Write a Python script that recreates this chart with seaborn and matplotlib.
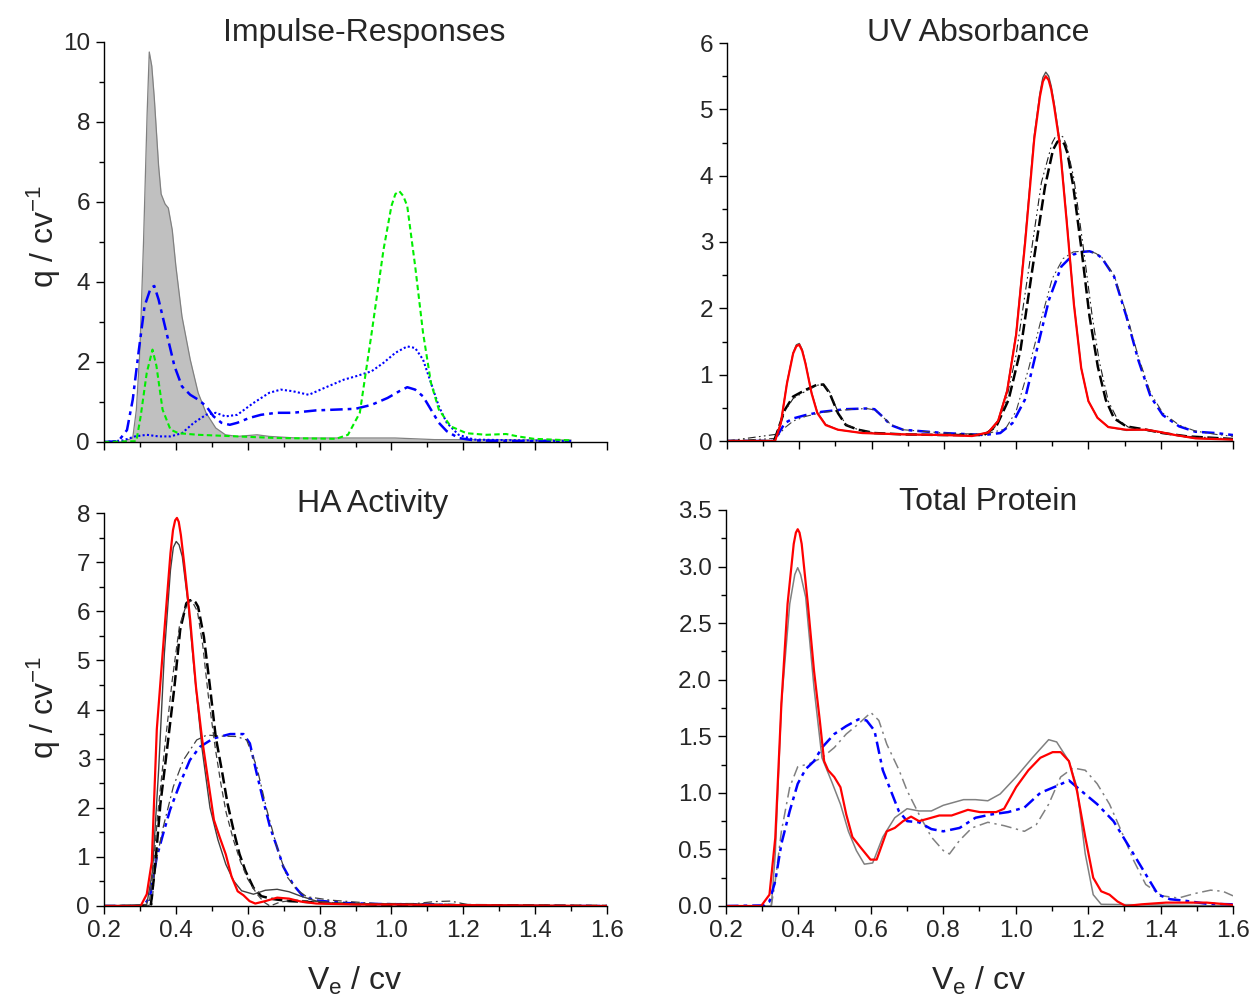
import matplotlib
matplotlib.use('Agg')
import matplotlib.pyplot as plt
import seaborn as sns
from matplotlib.ticker import MultipleLocator, FormatStrFormatter

# ---------------- data ----------------
# Impulse-Responses
ir_gray_x = [0.20, 0.25, 0.28, 0.29, 0.30, 0.31, 0.32, 0.326, 0.333, 0.34, 0.352, 0.359, 0.37, 0.379,
             0.39, 0.40, 0.417, 0.44, 0.462, 0.484, 0.511, 0.538, 0.571, 0.626, 0.66, 0.736, 0.90,
             1.01, 1.12, 1.50]
ir_gray_y = [0, 0, 0.1, 0.8, 2.3, 5.0, 8.2, 9.75, 9.4, 8.6, 6.9, 6.2, 5.95, 5.85,
             5.3, 4.4, 3.14, 2.06, 1.23, 0.73, 0.35, 0.18, 0.14, 0.18, 0.14, 0.10, 0.10,
             0.10, 0.06, 0.05]

ir_dashdot_x = [0.20, 0.24, 0.264, 0.28, 0.297, 0.313, 0.33, 0.34, 0.352, 0.374, 0.396, 0.417, 0.44,
                0.462, 0.484, 0.505, 0.527, 0.55, 0.571, 0.604, 0.637, 0.68, 0.725, 0.79, 0.846, 0.90,
                0.945, 0.989, 1.022, 1.044, 1.066, 1.088, 1.11, 1.132, 1.154, 1.187, 1.23, 1.34, 1.50]
ir_dashdot_y = [0, 0.02, 0.3, 1.06, 2.3, 3.4, 3.85, 3.9, 3.56, 2.73, 1.9, 1.39, 1.18,
                1.06, 0.9, 0.64, 0.48, 0.43, 0.48, 0.6, 0.68, 0.73, 0.73, 0.79, 0.81, 0.83,
                0.93, 1.1, 1.27, 1.37, 1.31, 1.14, 0.81, 0.48, 0.27, 0.1, 0.04, 0.02, 0.02]

ir_dot_x = [0.20, 0.253, 0.286, 0.319, 0.352, 0.385, 0.417, 0.45, 0.484, 0.511, 0.538, 0.571, 0.615,
            0.66, 0.692, 0.725, 0.77, 0.813, 0.868, 0.90, 0.945, 0.978, 1.011, 1.044, 1.066, 1.088,
            1.11, 1.132, 1.154, 1.187, 1.23, 1.50]
ir_dot_y = [0, 0.04, 0.14, 0.18, 0.14, 0.14, 0.22, 0.48, 0.68, 0.73, 0.64, 0.68, 0.97,
            1.23, 1.31, 1.27, 1.18, 1.35, 1.56, 1.64, 1.77, 1.98, 2.23, 2.39, 2.35, 2.06,
            1.48, 0.89, 0.48, 0.18, 0.06, 0.02]

ir_green_x = [0.20, 0.29, 0.302, 0.319, 0.335, 0.346, 0.363, 0.385, 0.407, 0.462, 0.571, 0.68, 0.846,
              0.879, 0.912, 0.945, 0.978, 1.0, 1.011, 1.022, 1.033, 1.044, 1.066, 1.088, 1.11, 1.132,
              1.165, 1.209, 1.264, 1.319, 1.352, 1.396, 1.50]
ir_green_y = [0, 0.02, 0.64, 1.73, 2.31, 1.9, 0.81, 0.31, 0.22, 0.18, 0.14, 0.1, 0.08,
              0.18, 0.73, 2.73, 4.81, 5.9, 6.2, 6.27, 6.15, 5.9, 4.4, 2.73, 1.48, 0.81,
              0.39, 0.22, 0.18, 0.2, 0.14, 0.08, 0.04]

# UV Absorbance
uv_red_x = [0.20, 0.333, 0.349, 0.366, 0.383, 0.392, 0.40, 0.408, 0.417, 0.434, 0.45, 0.473, 0.507,
            0.574, 0.687, 0.80, 0.878, 0.923, 0.95, 0.975, 1.0, 1.025, 1.05, 1.066, 1.074, 1.082,
            1.09, 1.097, 1.105, 1.12, 1.14, 1.16, 1.18, 1.20, 1.225, 1.255, 1.305, 1.36, 1.394,
            1.44, 1.496, 1.60]
uv_red_y = [0, 0, 0.27, 0.87, 1.32, 1.43, 1.45, 1.36, 1.17, 0.72, 0.42, 0.24, 0.17,
            0.12, 0.10, 0.09, 0.075, 0.13, 0.3, 0.75, 1.6, 3.0, 4.55, 5.2, 5.42, 5.5,
            5.44, 5.3, 5.05, 4.5, 3.3, 2.05, 1.1, 0.6, 0.35, 0.21, 0.17, 0.17, 0.14,
            0.09, 0.04, 0.02]
uv_gray_y = [0, 0, 0.28, 0.88, 1.33, 1.45, 1.47, 1.38, 1.18, 0.73, 0.43, 0.25, 0.17,
             0.12, 0.10, 0.09, 0.08, 0.13, 0.31, 0.77, 1.63, 3.05, 4.6, 5.25, 5.48, 5.56,
             5.5, 5.35, 5.1, 4.55, 3.33, 2.07, 1.1, 0.6, 0.35, 0.21, 0.16, 0.17, 0.14,
             0.09, 0.04, 0.02]

uv_blk_x = [0.20, 0.33, 0.338, 0.36, 0.383, 0.417, 0.45, 0.467, 0.484, 0.507, 0.529, 0.563, 0.608,
            0.687, 0.80, 0.911, 0.945, 0.979, 1.012, 1.046, 1.08, 1.102, 1.114, 1.125, 1.134, 1.142,
            1.158, 1.181, 1.203, 1.226, 1.248, 1.271, 1.305, 1.36, 1.405, 1.473, 1.60]
uv_blk_y = [0, 0, 0.12, 0.47, 0.67, 0.77, 0.85, 0.85, 0.72, 0.42, 0.24, 0.17, 0.12,
            0.10, 0.09, 0.09, 0.22, 0.62, 1.37, 2.63, 3.84, 4.39, 4.51, 4.54, 4.47, 4.34,
            3.84, 2.88, 1.88, 1.12, 0.62, 0.34, 0.22, 0.17, 0.12, 0.07, 0.03]

uv_blkthin_x = [0.20, 0.335, 0.36, 0.383, 0.417, 0.45, 0.467, 0.484, 0.507, 0.529, 0.563, 0.608, 0.687,
                0.80, 0.911, 0.94, 0.97, 1.0, 1.035, 1.07, 1.10, 1.11, 1.12, 1.13, 1.14, 1.16, 1.185,
                1.21, 1.23, 1.255, 1.28, 1.31, 1.36, 1.405, 1.473, 1.60]
uv_blkthin_y = [0, 0.1, 0.45, 0.64, 0.75, 0.84, 0.86, 0.74, 0.44, 0.25, 0.17, 0.12, 0.10,
                0.09, 0.09, 0.2, 0.55, 1.3, 2.6, 3.9, 4.5, 4.6, 4.62, 4.58, 4.45, 3.95, 2.95,
                1.9, 1.2, 0.6, 0.33, 0.21, 0.16, 0.12, 0.07, 0.03]

uv_blue_x = [0.20, 0.33, 0.338, 0.36, 0.383, 0.417, 0.462, 0.529, 0.585, 0.608, 0.63, 0.653, 0.687,
             0.80, 0.911, 0.956, 0.99, 1.024, 1.057, 1.091, 1.125, 1.158, 1.18, 1.203, 1.22, 1.237,
             1.271, 1.305, 1.338, 1.372, 1.406, 1.451, 1.496, 1.552, 1.60]
uv_blue_y = [0, 0, 0.07, 0.27, 0.34, 0.39, 0.44, 0.48, 0.49, 0.48, 0.37, 0.24, 0.17,
             0.12, 0.09, 0.12, 0.27, 0.62, 1.37, 2.13, 2.63, 2.81, 2.85, 2.86, 2.83, 2.76,
             2.48, 1.88, 1.22, 0.67, 0.39, 0.22, 0.14, 0.12, 0.09]

uv_bluethin_x = [0.20, 0.335, 0.36, 0.383, 0.417, 0.462, 0.529, 0.585, 0.608, 0.63, 0.653, 0.687, 0.80,
                 0.911, 0.97, 1.0, 1.035, 1.07, 1.10, 1.13, 1.158, 1.18, 1.203, 1.22, 1.237, 1.271,
                 1.305, 1.338, 1.372, 1.406, 1.451, 1.496, 1.552, 1.60]
uv_bluethin_y = [0, 0.04, 0.2, 0.3, 0.37, 0.43, 0.47, 0.49, 0.47, 0.37, 0.25, 0.17, 0.12,
                 0.1, 0.18, 0.45, 1.1, 1.85, 2.45, 2.75, 2.85, 2.86, 2.86, 2.83, 2.77, 2.5,
                 1.92, 1.27, 0.72, 0.42, 0.24, 0.15, 0.1, 0.07]

# HA Activity
ha_red_x = [0.20, 0.302, 0.319, 0.333, 0.347, 0.368, 0.385, 0.392, 0.398, 0.403, 0.408, 0.414, 0.423,
            0.44, 0.456, 0.473, 0.489, 0.506, 0.522, 0.539, 0.555, 0.572, 0.588, 0.605, 0.621, 0.649,
            0.682, 0.715, 0.748, 0.791, 0.901, 1.011, 1.121, 1.60]
ha_red_y = [0, 0, 0.24, 0.9, 3.6, 5.6, 7.18, 7.65, 7.85, 7.9, 7.82, 7.55, 6.98,
            5.82, 4.46, 3.4, 2.6, 1.75, 1.4, 1.05, 0.6, 0.3, 0.22, 0.1, 0.05, 0.1,
            0.17, 0.15, 0.09, 0.05, 0.03, 0.03, 0.02, 0]

ha_gray_x = [0.20, 0.319, 0.335, 0.352, 0.368, 0.385, 0.393, 0.401, 0.409, 0.418, 0.434, 0.451, 0.473,
             0.495, 0.517, 0.539, 0.561, 0.583, 0.616, 0.649, 0.682, 0.715, 0.748, 0.791, 0.846, 1.60]
ha_gray_y = [0, 0.03, 0.71, 2.76, 5.14, 6.84, 7.3, 7.42, 7.35, 7.11, 6.16, 4.8, 3.2,
             2.0, 1.35, 0.85, 0.51, 0.31, 0.24, 0.32, 0.34, 0.29, 0.2, 0.1, 0.05, 0]

ha_blk_x = [0.20, 0.33, 0.341, 0.357, 0.374, 0.396, 0.412, 0.429, 0.438, 0.447, 0.455, 0.462, 0.478,
            0.495, 0.511, 0.528, 0.544, 0.561, 0.577, 0.594, 0.616, 0.638, 0.671, 0.715, 0.77, 0.846,
            0.956, 1.60]
ha_blk_y = [0, 0, 0.71, 2.08, 3.1, 4.46, 5.62, 6.16, 6.22, 6.23, 6.18, 6.09, 5.48,
            4.46, 3.44, 2.76, 2.08, 1.53, 1.06, 0.71, 0.37, 0.2, 0.14, 0.1, 0.08, 0.05,
            0.03, 0]

ha_blkthin_x = [0.20, 0.325, 0.335, 0.35, 0.37, 0.39, 0.41, 0.43, 0.444, 0.46, 0.475, 0.49, 0.51,
                0.525, 0.54, 0.56, 0.58, 0.60, 0.625, 0.645, 0.662, 0.69, 0.73, 0.78, 0.85, 0.95, 1.60]
ha_blkthin_y = [0, 0, 0.6, 1.9, 3.3, 4.6, 5.7, 6.15, 6.22, 6.0, 5.3, 4.3, 3.2,
                2.5, 1.9, 1.35, 0.9, 0.55, 0.25, 0.08, 0.0, 0.08, 0.12, 0.1, 0.06, 0.03, 0]

ha_blue_x = [0.20, 0.31, 0.328, 0.347, 0.365, 0.384, 0.412, 0.439, 0.467, 0.504, 0.551, 0.588, 0.606,
             0.625, 0.643, 0.662, 0.681, 0.699, 0.727, 0.755, 0.792, 0.876, 0.968, 1.121, 1.231, 1.60]
ha_blue_y = [0, 0, 0.19, 1.0, 1.48, 1.96, 2.5, 2.97, 3.24, 3.41, 3.5, 3.5, 3.31,
             2.7, 2.16, 1.61, 1.21, 0.8, 0.43, 0.19, 0.11, 0.06, 0.04, 0.03, 0, 0]

ha_bluethin_x = [0.20, 0.333, 0.342, 0.365, 0.393, 0.421, 0.458, 0.486, 0.521, 0.569, 0.597, 0.625,
                 0.653, 0.681, 0.709, 0.737, 0.764, 0.829, 0.956, 1.066, 1.121, 1.165, 1.198, 1.231, 1.60]
ha_bluethin_y = [0, 0, 0.8, 1.61, 2.43, 2.97, 3.38, 3.48, 3.46, 3.45, 3.38, 2.84,
                 1.96, 1.21, 0.6, 0.33, 0.19, 0.12, 0.05, 0.05, 0.09, 0.1, 0.05, 0, 0]

# Total Protein
tp_red_x = [0.20, 0.297, 0.32, 0.336, 0.353, 0.37, 0.387, 0.393, 0.398, 0.403, 0.409, 0.426, 0.443,
            0.459, 0.471, 0.482, 0.499, 0.516, 0.532, 0.549, 0.571, 0.599, 0.616, 0.644, 0.666, 0.689,
            0.711, 0.733, 0.756, 0.789, 0.823, 0.868, 0.901, 0.946, 0.968, 1.001, 1.035, 1.068, 1.102,
            1.124, 1.147, 1.169, 1.192, 1.214, 1.236, 1.259, 1.281, 1.304, 1.348, 1.415, 1.527, 1.60]
tp_red_y = [0, 0, 0.1, 0.6, 1.79, 2.67, 3.2, 3.3, 3.33, 3.3, 3.2, 2.67, 2.08,
            1.64, 1.28, 1.2, 1.14, 1.05, 0.81, 0.61, 0.52, 0.41, 0.41, 0.66, 0.69, 0.75,
            0.79, 0.75, 0.77, 0.8, 0.8, 0.85, 0.83, 0.83, 0.86, 1.05, 1.2, 1.31, 1.36,
            1.36, 1.28, 1.02, 0.61, 0.25, 0.13, 0.1, 0.04, 0, 0.015, 0.03, 0.03, 0.01]

tp_gray_x = [0.20, 0.325, 0.336, 0.353, 0.376, 0.39, 0.398, 0.406, 0.42, 0.443, 0.465, 0.493, 0.516,
             0.538, 0.56, 0.582, 0.605, 0.633, 0.666, 0.70, 0.733, 0.767, 0.80, 0.856, 0.889, 0.923,
             0.957, 1.001, 1.046, 1.091, 1.113, 1.147, 1.169, 1.192, 1.214, 1.236, 1.60]
tp_gray_y = [0, 0, 0.46, 1.79, 2.67, 2.93, 2.99, 2.93, 2.73, 1.93, 1.31, 1.09, 0.9,
             0.66, 0.49, 0.37, 0.38, 0.61, 0.78, 0.86, 0.84, 0.84, 0.89, 0.94, 0.94, 0.93,
             0.99, 1.14, 1.31, 1.47, 1.45, 1.28, 1.05, 0.46, 0.1, 0.015, 0]

tp_blue_x = [0.20, 0.303, 0.32, 0.336, 0.353, 0.376, 0.398, 0.42, 0.443, 0.465, 0.499, 0.532, 0.566,
             0.588, 0.61, 0.633, 0.655, 0.677, 0.70, 0.733, 0.767, 0.80, 0.845, 0.889, 0.934, 0.979,
             1.024, 1.068, 1.113, 1.147, 1.18, 1.225, 1.27, 1.314, 1.359, 1.393, 1.426, 1.471, 1.527, 1.60]
tp_blue_y = [0, 0.005, 0.04, 0.22, 0.55, 0.84, 1.08, 1.21, 1.28, 1.4, 1.52, 1.59, 1.65,
             1.64, 1.55, 1.2, 1.02, 0.84, 0.75, 0.74, 0.68, 0.66, 0.69, 0.78, 0.81, 0.83,
             0.87, 1.0, 1.06, 1.11, 1.02, 0.9, 0.75, 0.52, 0.28, 0.1, 0.06, 0.045, 0.02, 0.015]

tp_graydd_x = [0.20, 0.325, 0.336, 0.353, 0.376, 0.398, 0.432, 0.465, 0.499, 0.532, 0.566, 0.60, 0.622,
               0.644, 0.678, 0.70, 0.733, 0.767, 0.80, 0.817, 0.845, 0.879, 0.923, 0.968, 1.024, 1.057,
               1.091, 1.124, 1.158, 1.192, 1.225, 1.259, 1.292, 1.326, 1.359, 1.404, 1.449, 1.494, 1.538,
               1.572, 1.60]
tp_graydd_y = [0, 0, 0.22, 0.66, 1.05, 1.23, 1.26, 1.31, 1.4, 1.52, 1.61, 1.71, 1.64,
               1.43, 1.2, 1.02, 0.81, 0.61, 0.49, 0.46, 0.58, 0.69, 0.74, 0.71, 0.66, 0.72,
               0.9, 1.14, 1.22, 1.2, 1.08, 0.9, 0.66, 0.4, 0.19, 0.09, 0.07, 0.11, 0.14,
               0.13, 0.09]

titles = ['Impulse-Responses', 'UV Absorbance', 'HA Activity', 'Total Protein']
xticks = [0.2, 0.4, 0.6, 0.8, 1.0, 1.2, 1.4, 1.6]

# ---------------- style ----------------
sns.set_theme(style='ticks')
plt.rcParams['font.family'] = ['Liberation Sans', 'DejaVu Sans']
plt.rcParams['mathtext.fontset'] = 'custom'
plt.rcParams['mathtext.rm'] = 'Liberation Sans'
plt.rcParams['mathtext.it'] = 'Liberation Sans:italic'
plt.rcParams['axes.linewidth'] = 1.0

W, H = 1255, 998
fig = plt.figure(figsize=(W / 100, H / 100), dpi=100)


def add_ax(l, r, t, b):
    return fig.add_axes([l / W, 1 - b / H, (r - l) / W, (b - t) / H])


ax_ir = add_ax(104, 607, 42, 442)
ax_uv = add_ax(727, 1233, 43, 441)
ax_ha = add_ax(104, 607, 513, 906)
ax_tp = add_ax(726, 1233, 510, 906)

RED = '#ff0000'
BLUE = '#0000ff'
GREEN = '#00ee00'


def draw(ax, x, y, color, lw, ls='-'):
    sns.lineplot(x=x, y=y, ax=ax, color=color, linewidth=lw, linestyle=ls,
                 sort=False, estimator=None)


DASHDOT = (0, (5, 2, 1.5, 2))
DDOT_THIN = (0, (7, 3, 1.5, 3, 1.5, 3))
DASH_THICK = (0, (4.5, 1.8))
DASH_THIN = (0, (5, 3))
DOT = (0, (1, 1.1))
GDASH = (0, (2.6, 1.6))
DD_THIN = (0, (7, 3, 1.5, 3))

# Impulse responses
ax_ir.fill_between(ir_gray_x, ir_gray_y, 0, color='#c0c0c0', linewidth=0)
draw(ax_ir, ir_gray_x, ir_gray_y, '#808080', 0.9)
draw(ax_ir, ir_dot_x, ir_dot_y, BLUE, 1.5, DOT)
draw(ax_ir, ir_dashdot_x, ir_dashdot_y, BLUE, 1.8, DASHDOT)
draw(ax_ir, ir_green_x, ir_green_y, GREEN, 1.5, GDASH)

# UV
draw(ax_uv, uv_blue_x, uv_blue_y, BLUE, 1.8, DASHDOT)
draw(ax_uv, uv_bluethin_x, uv_bluethin_y, '#404040', 0.8, DDOT_THIN)
draw(ax_uv, uv_blk_x, uv_blk_y, 'black', 1.8, DASH_THICK)
draw(ax_uv, uv_blkthin_x, uv_blkthin_y, '#202020', 0.8, DDOT_THIN)
draw(ax_uv, uv_red_x, uv_gray_y, '#505050', 1.0)
draw(ax_uv, uv_red_x, uv_red_y, RED, 1.6)

# HA
draw(ax_ha, ha_blue_x, ha_blue_y, BLUE, 1.8, DASHDOT)
draw(ax_ha, ha_bluethin_x, ha_bluethin_y, '#404040', 0.9, DD_THIN)
draw(ax_ha, ha_blk_x, ha_blk_y, 'black', 1.8, DASH_THICK)
draw(ax_ha, ha_blkthin_x, ha_blkthin_y, '#404040', 0.9, DASH_THIN)
draw(ax_ha, ha_gray_x, ha_gray_y, '#404040', 1.0)
draw(ax_ha, ha_red_x, ha_red_y, RED, 1.6)

# Total protein
draw(ax_tp, tp_gray_x, tp_gray_y, '#808080', 1.1)
draw(ax_tp, tp_graydd_x, tp_graydd_y, '#808080', 1.1, DD_THIN)
draw(ax_tp, tp_blue_x, tp_blue_y, BLUE, 1.8, DASHDOT)
draw(ax_tp, tp_red_x, tp_red_y, RED, 1.6)

# axes formatting
limits = {ax_ir: (0, 10, 2, 1), ax_uv: (0, 6, 1, 0.5), ax_ha: (0, 8, 1, 0.5), ax_tp: (0, 3.5, 0.5, 0.25)}
for ax, (y0, y1, maj, mnr) in limits.items():
    ax.set_xlim(0.2, 1.6)
    ax.set_ylim(y0, y1)
    ax.set_xticks(xticks)
    ax.xaxis.set_minor_locator(MultipleLocator(0.1))
    ax.yaxis.set_major_locator(MultipleLocator(maj))
    ax.yaxis.set_minor_locator(MultipleLocator(mnr))
    for s in ('top', 'right'):
        ax.spines[s].set_visible(False)
    for s in ('left', 'bottom'):
        ax.spines[s].set_color('black')
        ax.spines[s].set_linewidth(1.0)
    ax.tick_params(which='major', direction='out', length=6, width=1, color='black',
                   labelsize=17.5, pad=4)
    ax.tick_params(which='minor', direction='out', length=3.5, width=1, color='black')
    ax.set_xlabel('')
    ax.set_ylabel('')
    ax.patch.set_alpha(0)

ax_ir.tick_params(labelbottom=False)
ax_uv.tick_params(labelbottom=False)
ax_tp.yaxis.set_major_formatter(FormatStrFormatter('%.1f'))
ax_ha.xaxis.set_major_formatter(FormatStrFormatter('%.1f'))
ax_tp.xaxis.set_major_formatter(FormatStrFormatter('%.1f'))

# titles
for (cx, by), t in zip([(364, 41), (978, 41), (373, 512), (988, 510)], titles):
    fig.text(cx / W, 1 - by / H, t, ha='center', va='baseline', fontsize=23)

# y labels
ylab = r'q / cv$^{\mathregular{-1}}$'
fig.text(44 / W, 1 - 236 / H, ylab, rotation=90, ha='center', va='center', fontsize=23)
fig.text(44 / W, 1 - 707 / H, ylab, rotation=90, ha='center', va='center', fontsize=23)

# x labels
xlab = r'V$_{\mathregular{e}}$ / cv'
fig.text(355 / W, 1 - 990 / H, xlab, ha='center', va='baseline', fontsize=23)
fig.text(979 / W, 1 - 990 / H, xlab, ha='center', va='baseline', fontsize=23)

fig.savefig('out.png', dpi=100)
